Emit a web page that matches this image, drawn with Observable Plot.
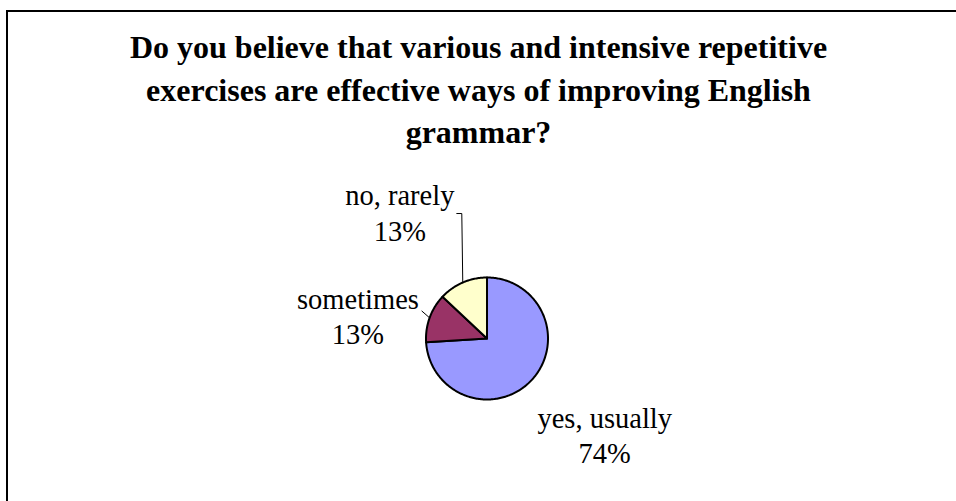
<!DOCTYPE html>
<html>
<head>
<meta charset="utf-8">
<script src="https://cdn.jsdelivr.net/npm/d3@7"></script>
<script src="https://cdn.jsdelivr.net/npm/@observablehq/plot@0.6"></script>
<style>
  html, body { margin: 0; padding: 0; background: #fff; overflow: hidden; }
  #wrap { position: relative; width: 956px; height: 501px; overflow: hidden; }
  #border { position: absolute; left: 6px; top: 10px; width: 1200px; height: 800px;
            border-top: 2px solid #000; border-left: 2px solid #000; pointer-events: none; }
  svg { display: block; }
</style>
</head>
<body>
<div id="wrap"><div id="chart"></div><div id="border"></div></div>
<script>
// ---- data ----
const titleLines = [
  "Do you believe that various and intensive repetitive",
  "exercises are effective ways of improving English",
  "grammar?"
];
const categories = ["yes, usually", "sometimes", "no, rarely"];
const values = [74, 13, 13];
const percentLabels = ["74%", "13%", "13%"];
const colors = ["#9999FF", "#993366", "#FFFFCC"];

// ---- layout (styling) ----
const W = 956, H = 501;
const CX = 486.5, CY = 338, R = 61;
const LABEL_DIST = 134;
const labelNudge = [[20, 4], [-3, 22], [-34, -4]];
// leader elbow offsets relative to label anchor (px); null = no leader
const leaderElbows = [null, [[64, -4]], [[57, 2], [62, 2]]];

// ---- build slices from data ----
const total = d3.sum(values);
let acc = 0;
const slices = categories.map((c, i) => {
  const a0 = acc / total * 2 * Math.PI;
  acc += values[i];
  const a1 = acc / total * 2 * Math.PI;
  return {cat: c, a0, a1, mid: (a0 + a1) / 2, value: values[i], pct: percentLabels[i]};
});
const polar = (a, r) => [Math.sin(a) * r, -Math.cos(a) * r];

const piePoints = [];
slices.forEach(s => {
  piePoints.push({cat: s.cat, x: 0, y: 0});
  const n = Math.max(2, Math.ceil((s.a1 - s.a0) / (Math.PI / 180)));
  for (let k = 0; k <= n; k++) {
    const a = s.a0 + (s.a1 - s.a0) * k / n;
    const [x, y] = polar(a, R);
    piePoints.push({cat: s.cat, x, y});
  }
  piePoints.push({cat: s.cat, x: 0, y: 0});
});

const labels = slices.map((s, i) => {
  const [x, y] = polar(s.mid, LABEL_DIST);
  return {cat: s.cat, text: s.cat + "\n" + s.pct, x: x + labelNudge[i][0], y: y + labelNudge[i][1]};
});

const leaders = [];
slices.forEach((s, i) => {
  if (!leaderElbows[i]) return;
  const [ex, ey] = polar(s.mid, R);
  const lab = labels[i];
  leaderElbows[i].forEach(([dx, dy]) => leaders.push({cat: s.cat, x: lab.x + dx, y: lab.y + dy}));
  leaders.push({cat: s.cat, x: ex, y: ey});
});

const serif = "'Liberation Serif', 'Times New Roman', Times, serif";

const chart = Plot.plot({
  width: W, height: H,
  margin: 0,
  x: {domain: [-CX, W - CX], range: [0, W], axis: null},
  y: {domain: [-CY, H - CY], range: [0, H], axis: null},
  color: {domain: categories, range: colors},
  style: {fontFamily: serif, background: "#fff"},
  marks: [
    Plot.line(piePoints, {x: "x", y: "y", z: "cat", fill: "cat", stroke: "#000", strokeWidth: 2,
      strokeLinejoin: "round", curve: "linear"}),
    Plot.line(leaders, {x: "x", y: "y", z: "cat", stroke: "#000", strokeWidth: 1, curve: "linear"}),
    Plot.text(labels, {x: "x", y: "y", text: "text", fontSize: 28.5, lineHeight: 1.25,
      textAnchor: "middle", lineAnchor: "middle", fill: "#000", fontFamily: serif}),
    Plot.text([titleLines.join("\n")], {frameAnchor: "top", dx: 0, dy: 28, text: d => d,
      fontSize: 32, fontWeight: "bold", lineHeight: 1.32, lineAnchor: "top",
      fill: "#000", fontFamily: serif})
  ]
});
document.getElementById("chart").appendChild(chart);
</script>
</body>
</html>
